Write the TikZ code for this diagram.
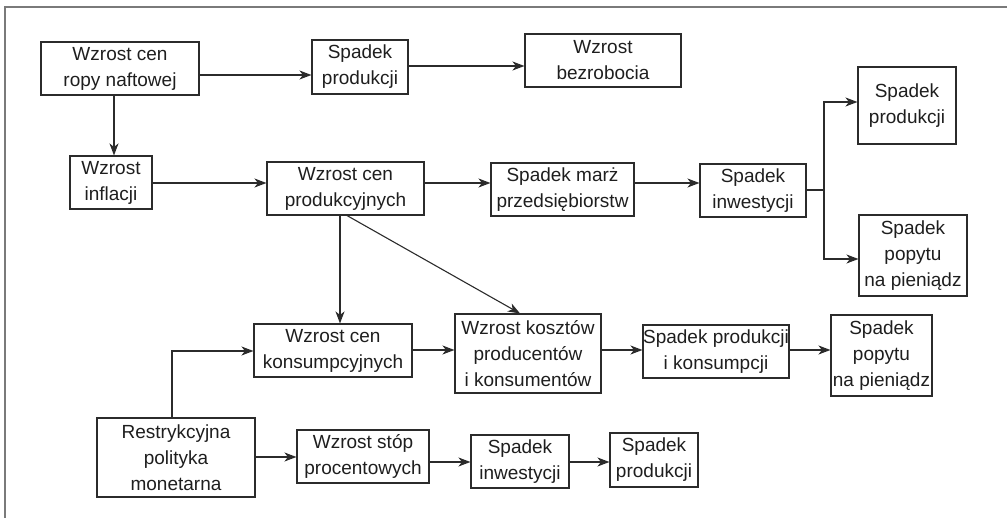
\documentclass[tikz,border=0pt]{standalone}
\usepackage{fontspec}
\setmainfont{Liberation Sans}
\usetikzlibrary{arrows.meta}
\definecolor{boxline}{HTML}{2B2B2B}
\definecolor{frameline}{HTML}{7A7A7A}
\definecolor{txt}{HTML}{1E1E1E}
\tikzset{
  x=1pt, y=-1pt,
  box/.style={draw=boxline, line width=1.1pt, inner sep=0pt, align=center,
    text=txt, font=\fontsize{19}{26}\selectfont},
  arr/.style={draw=boxline, line width=1.1pt,
    -{Stealth[length=12pt,width=9pt,inset=3.5pt]}},
  ln/.style={draw=boxline, line width=1.1pt},
}
\begin{document}
\begin{tikzpicture}
\useasboundingbox (0,0) rectangle (1007,518);
\draw[frameline, line width=1.6pt] (5,518) -- (5,7) -- (1007,7);

\node[box, minimum width=158pt, minimum height=53pt] (b1) at (120,68.5) {Wzrost cen\\ropy naftowej};
\node[box, minimum width=96pt, minimum height=54pt] (b2) at (360,67) {Spadek\\produkcji};
\node[box, minimum width=156pt, minimum height=53pt] (b3) at (603,60.5) {Wzrost\\bezrobocia};
\node[box, minimum width=82pt, minimum height=53pt] (b4) at (111,182.5) {Wzrost\\inflacji};
\node[box, minimum width=157pt, minimum height=53pt] (b5) at (345.5,188.5) {Wzrost cen\\produkcyjnych};
\node[box, minimum width=143pt, minimum height=53pt] (b6) at (562.5,189.5) {Spadek marż\\przedsiębiorstw};
\node[box, minimum width=106pt, minimum height=53pt] (b7) at (753,190.5) {Spadek\\inwestycji};
\node[box, minimum width=98pt, minimum height=77pt] (b8) at (907,105.5) {Spadek\\produkcji};
\node[box, minimum width=108pt, minimum height=81pt] (b9) at (913,255.5) {Spadek\\popytu\\na pieniądz};
\node[box, minimum width=158pt, minimum height=53pt] (b10) at (333,350.5) {Wzrost cen\\konsumpcyjnych};
\node[box, minimum width=146pt, minimum height=79pt] (b11) at (528,353.5) {Wzrost kosztów\\producentów\\i konsumentów};
\node[box, minimum width=146pt, minimum height=53pt] (b12) at (716,351.5) {Spadek produkcji\\i konsumpcji};
\node[box, minimum width=101pt, minimum height=81pt] (b13) at (881.5,355.5) {Spadek\\popytu\\na pieniądz};
\node[box, minimum width=158pt, minimum height=79pt] (b14) at (176,457.5) {Restrykcyjna\\polityka\\monetarna};
\node[box, minimum width=132pt, minimum height=53pt] (b15) at (363,456.5) {Wzrost stóp\\procentowych};
\node[box, minimum width=98pt, minimum height=53pt] (b16) at (520,461.5) {Spadek\\inwestycji};
\node[box, minimum width=88pt, minimum height=54pt] (b17) at (654,460) {Spadek\\produkcji};

\coordinate (split) at (824,190);

\draw[arr] (b1.east |- 0,75) -- (b2.west |- 0,75);
\draw[arr] (b2.east |- 0,66) -- (b3.west |- 0,66);
\draw[arr] (b1.south -| 114,0) -- (b4.north -| 114,0);
\draw[arr] (b4.east |- 0,183) -- (b5.west |- 0,183);
\draw[arr] (b5.east |- 0,183) -- (b6.west |- 0,183);
\draw[arr] (b6.east |- 0,183) -- (b7.west |- 0,183);
\draw[ln] (b7.east |- split) -- (split);
\draw[arr] (split) |- (b8.west |- 0,102);
\draw[arr] (split) |- (b9.west |- 0,259);
\draw[arr] (b5.south -| 340,0) -- (b10.north -| 340,0);
\draw[arr] (b5.south -| 347,0) -- (b11.north -| 520,0);
\draw[arr] (b10.east |- 0,350) -- (b11.west |- 0,350);
\draw[arr] (b11.east |- 0,350) -- (b12.west |- 0,350);
\draw[arr] (b12.east |- 0,350) -- (b13.west |- 0,350);
\draw[arr] (b14.north -| 172,0) |- (b10.west |- 0,351);
\draw[arr] (b14.east |- 0,457) -- (b15.west |- 0,457);
\draw[arr] (b15.east |- 0,462) -- (b16.west |- 0,462);
\draw[arr] (b16.east |- 0,462) -- (b17.west |- 0,462);
\end{tikzpicture}
\end{document}
